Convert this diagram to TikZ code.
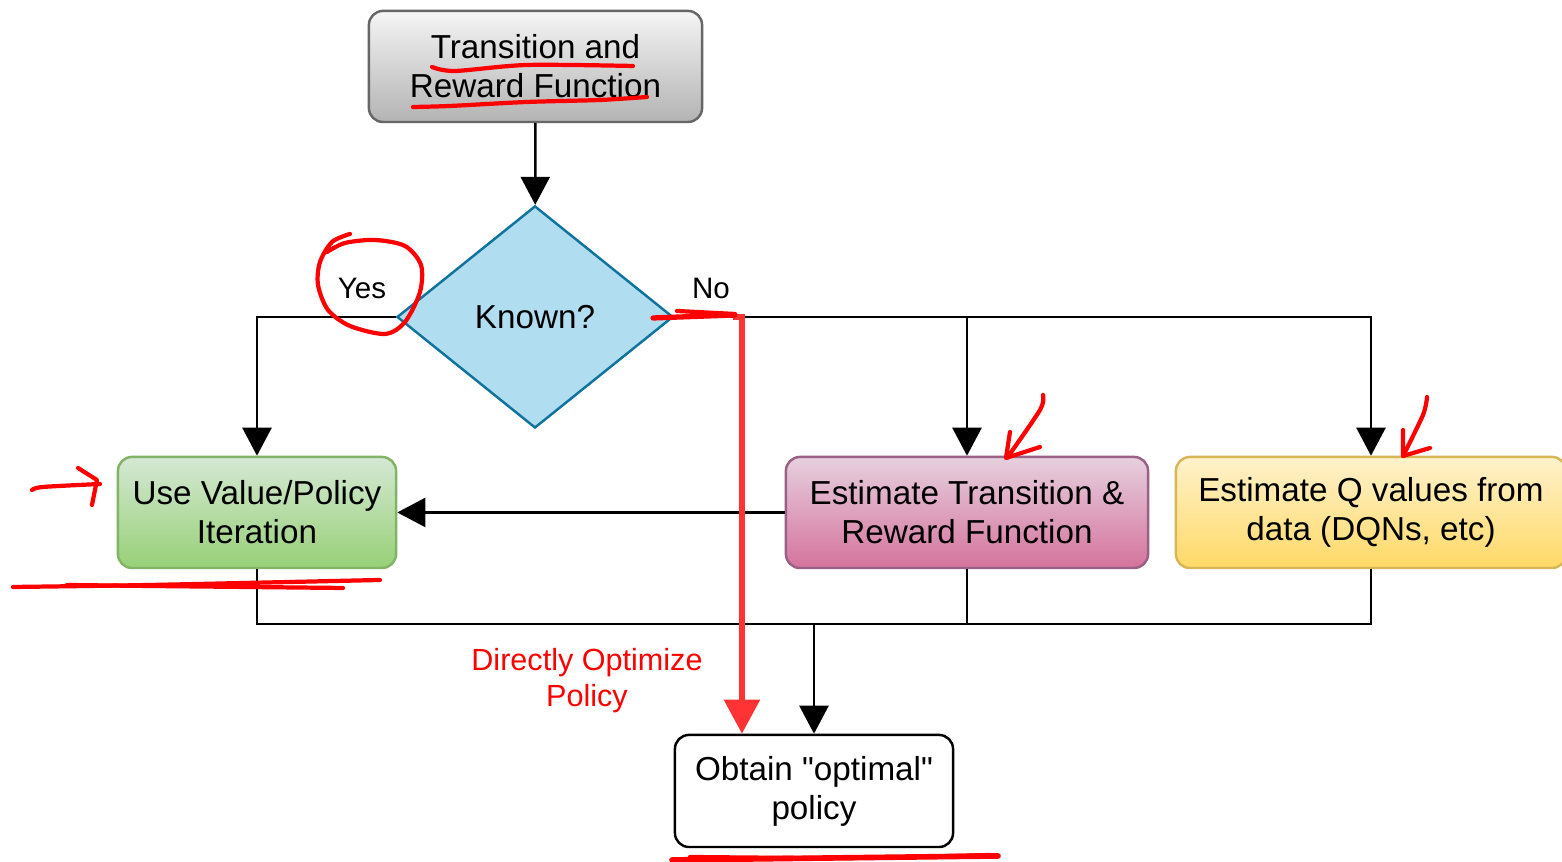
\documentclass[tikz,border=0pt]{standalone}
\usepackage{fontspec}
\setmainfont{Liberation Sans}[Ligatures=TeXOff]
\usetikzlibrary{shapes.geometric,arrows.meta}

\definecolor{trftop}{HTML}{F5F5F5}
\definecolor{trfbot}{HTML}{B3B3B3}
\definecolor{trfline}{HTML}{666666}
\definecolor{knownfill}{HTML}{B1DDF0}
\definecolor{knownline}{HTML}{10739E}
\definecolor{vpitop}{HTML}{D5E8D4}
\definecolor{vpibot}{HTML}{97D077}
\definecolor{vpiline}{HTML}{82B366}
\definecolor{etrtop}{HTML}{E6D0DE}
\definecolor{etrbot}{HTML}{D5739D}
\definecolor{etrline}{HTML}{996185}
\definecolor{eqtop}{HTML}{FFF2CC}
\definecolor{eqbot}{HTML}{FFD966}
\definecolor{eqline}{HTML}{D6B656}
\definecolor{directred}{HTML}{FF3333}
\definecolor{annotred}{HTML}{FF0000}

\begin{document}
\begin{tikzpicture}[x=0.01cm, y=0.01cm,
        every node/.append style={align=center, font=\fontsize{9.45}{11.1}\selectfont},
        box/.style={draw, rounded corners=0.14cm, minimum height=1.11cm, line width=0.7pt, inner sep=0pt},
        small/.style={font=\fontsize{8.4}{9.7}\selectfont},
        flow/.style={line width=0.7pt, -{Triangle[width=0.29cm,length=0.28cm]}},
        directflow/.style={draw=directred, line width=1.6pt, -{Triangle[width=0.35cm,length=0.34cm]}},
        annot/.style={draw=annotred, line width=1.2pt, line cap=round, line join=round}]
        \clip (0,0) rectangle (1562,862);

        \node [box, draw=trfline, top color=trftop, bottom color=trfbot, minimum width=3.33cm] (trf) at (535.5,795.5) {Transition and\\Reward Function};
        \node [diamond, draw=knownline, fill=knownfill, line width=0.7pt, aspect=1.243, minimum width=2.76cm, minimum height=2.22cm, inner sep=0pt] (known) at (535,545) {Known?};
        \node [box, draw=vpiline, top color=vpitop, bottom color=vpibot, minimum width=2.78cm] (vpi) at (257,349.5) {Use Value/Policy\\Iteration};
        \node [box, draw=etrline, top color=etrtop, bottom color=etrbot, minimum width=3.62cm] (etr) at (967,349.5) {Estimate Transition \&\\Reward Function};
        \node [box, draw=eqline, top color=eqtop, bottom color=eqbot, minimum width=3.9cm] (eq) at (1371,349.5) {Estimate Q values from\\data (DQNs, etc)};
        \node [box, fill=white, minimum width=2.78cm, minimum height=1.12cm] (opt) at (814,71) {Obtain "optimal"\\policy};
        \node [small] (yes) at (362,573) {Yes};
        \node [small] (no) at (711,573) {No};
        \node [text=annotred, font=\fontsize{8.7}{10.2}\selectfont] (direct) at (587,181) {Directly Optimize\\Policy};
        \coordinate (join) at (814,238);
        \coordinate (nored) at (733,545);

        \draw [flow] (trf) -- (known);
        \draw [flow] (known.west) -| (vpi.north);
        \draw [flow] (known.east) -| (etr.north);
        \draw [flow] (known.east) -| (eq.north);
        \draw [flow] (etr) -- (vpi);
        \draw [line width=0.7pt] (vpi.south) |- (join);
        \draw [line width=0.7pt] (etr.south) |- (join);
        \draw [line width=0.7pt] (eq.south) |- (join);
        \draw [flow] (join) -- (opt.north);
        \draw [directflow] (nored) -| ([xshift=-0.72cm]opt.north);

        % pen marks
        \draw [annot] plot [smooth] coordinates {(432,795) (455,791) (527,797) (633,796)};
        \draw [annot] plot [smooth] coordinates {(413,755) (450,756) (527,760) (600,762) (647,765)};
        \draw [annot] plot [smooth] coordinates {(350,628) (332,620) (320,600) (318,577) (328,552) (350,536) (385,528) (405,540) (420,570) (421,597) (405,616) (375,622) (345,619) (327,610)};
        \draw [annot, line width=1.5pt] (653,544) -- (735,547);
        \draw [annot] (677,551) -- (735,548);
        \draw [annot] plot [smooth] coordinates {(32,372) (43,375) (100,378)};
        \draw [annot] (78,394) -- (97,382) -- (92,357);
        \draw [annot] plot [smooth] coordinates {(13,275) (150,277) (380,282)};
        \draw [annot] plot [smooth] coordinates {(343,274) (150,276) (67,277)};
        \draw [annot] plot [smooth] coordinates {(1043,467) (1040,452) (1007,404)};
        \draw [annot] (1010,430) -- (1006,404) -- (1040,415);
        \draw [annot] plot [smooth] coordinates {(1427,465) (1423,447) (1403,406)};
        \draw [annot] (1403,432) -- (1403,406) -- (1430,414);
        \draw [annot, line width=1.6pt] plot [smooth] coordinates {(672,2) (830,4) (998,6)};
        \draw [annot] plot [smooth] coordinates {(690,5) (850,4) (990,7)};
    \end{tikzpicture}
\end{document}
